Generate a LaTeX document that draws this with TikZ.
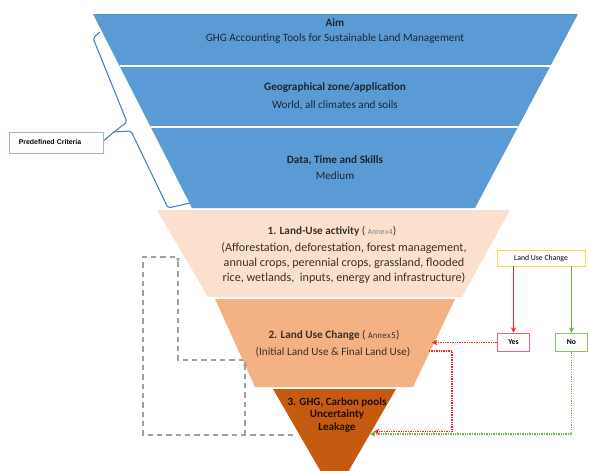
\documentclass[tikz,border=0pt]{standalone}
\usepackage{fontspec}
\setmainfont{Carlito}
\newfontfamily\arialf{Liberation Sans}
\newfontfamily\annexf{DejaVu Sans Mono}
\usetikzlibrary{arrows.meta}
\definecolor{fblue}{HTML}{5B9BD5}
\definecolor{fpeach}{HTML}{FBE0CE}
\definecolor{fmid}{HTML}{F4B183}
\definecolor{fdark}{HTML}{C55A11}
\definecolor{bracecol}{HTML}{4A7EBB}
\definecolor{pbord}{HTML}{9FB6D3}
\definecolor{lucbord}{HTML}{FFD54F}
\definecolor{yesbord}{HTML}{F4607A}
\definecolor{nobord}{HTML}{8CC06A}
\definecolor{arrred}{HTML}{FF2020}
\definecolor{arrgreen}{HTML}{70AD47}
\definecolor{gdashcol}{HTML}{A0A0A0}
\definecolor{txtdark}{HTML}{1E2530}
\definecolor{txtbrown}{HTML}{3A3028}
\tikzset{
  txt/.style={inner sep=0pt, text=txtdark, font=\fontsize{8.4}{10}\selectfont},
  txtb/.style={txt, font=\fontsize{8.4}{10}\selectfont\bfseries},
  ptxt/.style={inner sep=0pt, text=txtbrown, font=\fontsize{8.4}{11.2}\selectfont, align=center},
  smallbox/.style={draw, line width=0.7pt, fill=white, inner sep=0pt, font=\fontsize{5.8}{6.5}\selectfont\bfseries},
  reddot/.style={arrred, line width=0.9pt, dash pattern=on 1pt off 0.8pt},
  greendot/.style={arrgreen, line width=0.9pt, dash pattern=on 1pt off 0.8pt},
  gdash/.style={gdashcol, line width=0.8pt, dash pattern=on 4pt off 3pt},
  tip/.style={-{Stealth[length=4pt,width=4pt]}}
}
\begin{document}
\begin{tikzpicture}[x=0.75pt,y=-0.75pt]
\useasboundingbox (0,0) rectangle (589,471);
% funnel bands
\fill[fblue] (93,14) -- (578,14) -- (475,208) -- (192,208) -- cycle;
\draw[white, line width=1.3pt] (119.5,66) -- (550.5,66);
\draw[white, line width=1.3pt] (150.6,127) -- (518,127);
\fill[fpeach] (157,210) -- (510,210) -- (462,297) -- (208,297) -- cycle;
\fill[fmid] (215,299) -- (455,299) -- (413,387) -- (255,387) -- cycle;
\fill[fdark] (273,389) -- (396,389) -- (348,472) -- (321,472) -- cycle;
% texts
\node[txtb] (aimT) at (335,23) {Aim};
\node[txt] (aimS) at (335,39) {GHG Accounting Tools for Sustainable Land Management};
\node[txtb] (geoT) at (335,88) {Geographical zone/application};
\node[txt] (geoS) at (335,105) {World, all climates and soils};
\node[txtb] (dtsT) at (335,160) {Data, Time and Skills};
\node[txt] (dtsS) at (335,176) {Medium};
\node[ptxt] (luaT) at (332,231) {\textbf{1. Land-Use activity} ( {\annexf\fontsize{5.2}{6}\selectfont\color{gray}Annex4})};
\node[ptxt, font=\fontsize{9.1}{11.2}\selectfont] (luaS) at (344,263) {(Afforestation, deforestation, forest management,\\annual crops, perennial crops, grassland, flooded\\rice, wetlands,\ \ inputs, energy and infrastructure)};
\node[ptxt] (lucT) at (334,335) {\textbf{2. Land Use Change} ( {\annexf\fontsize{5.8}{6}\selectfont Annex5})};
\node[ptxt] (lucS) at (333,352) {(Initial Land Use \& Final Land Use)};
\node[ptxt, text=black!85!fdark, font=\fontsize{8.3}{9.2}\selectfont\bfseries] (ghg) at (337,415) {3. GHG, Carbon pools\\Uncertainty\\Leakage};
% predefined criteria + brace
\node[draw=pbord, line width=0.7pt, fill=white, anchor=west, inner xsep=7pt, inner ysep=0pt,
      text width=56.5pt, minimum height=15.75pt, align=left,
      font=\arialf\fontsize{5.2}{6}\selectfont\bfseries] (pc) at (9,142.5) {Predefined Criteria};
\coordinate (btip) at (114,132);
\draw[bracecol, line width=0.8pt, rounded corners=1.5pt] (100,32) -- (93,38) -- (127,122) -- (btip);
\draw[bracecol, line width=0.8pt, rounded corners=1.5pt] (btip) -- (131,131) -- (168,208) -- (190,203);
\draw[bracecol, line width=0.8pt] (pc.east) ++(0,-2) -- (btip);
% decision boxes
\node[smallbox, draw=lucbord, minimum width=66pt, minimum height=12pt, font=\fontsize{5.8}{6.5}\selectfont] (luc) at (541,258) {Land Use Change};
\node[smallbox, draw=yesbord, minimum width=24.5pt, minimum height=14pt] (yes) at (513.5,342.5) {Yes};
\node[smallbox, draw=nobord, minimum width=24.5pt, minimum height=14pt] (no) at (571.5,342.5) {No};
\draw[arrred, line width=0.9pt, tip] (yes.north |- luc.south) -- (yes.north);
\draw[arrgreen, line width=0.9pt, tip] (no.north |- luc.south) -- (no.north);
% dotted connectors
\coordinate (m2r) at (432,342.5);
\coordinate (m2b) at (429,351);
\coordinate (g3r) at (374,431.5);
\coordinate (g3g) at (370,434);
\draw[reddot, tip] (yes.west) -- (m2r);
\draw[greendot, tip] (no.south) |- (g3g);
\draw[reddot, tip] (m2b) -- (452,351) |- (g3r);
% gray dashed feedback
\coordinate (g3l) at (293,435);
\coordinate (s1l) at (178,262);
\coordinate (s2l) at (245,362);
\draw[gdash, -{Stealth[length=3pt,width=3pt]}] (g3l) -| (143,257) -| (s1l);
\draw[gdash] (s1l) -- (178,360) -- (243,360);
\draw[gdash, -{Stealth[length=3pt,width=3pt]}] (245,435) -- (s2l);
\end{tikzpicture}
\end{document}
